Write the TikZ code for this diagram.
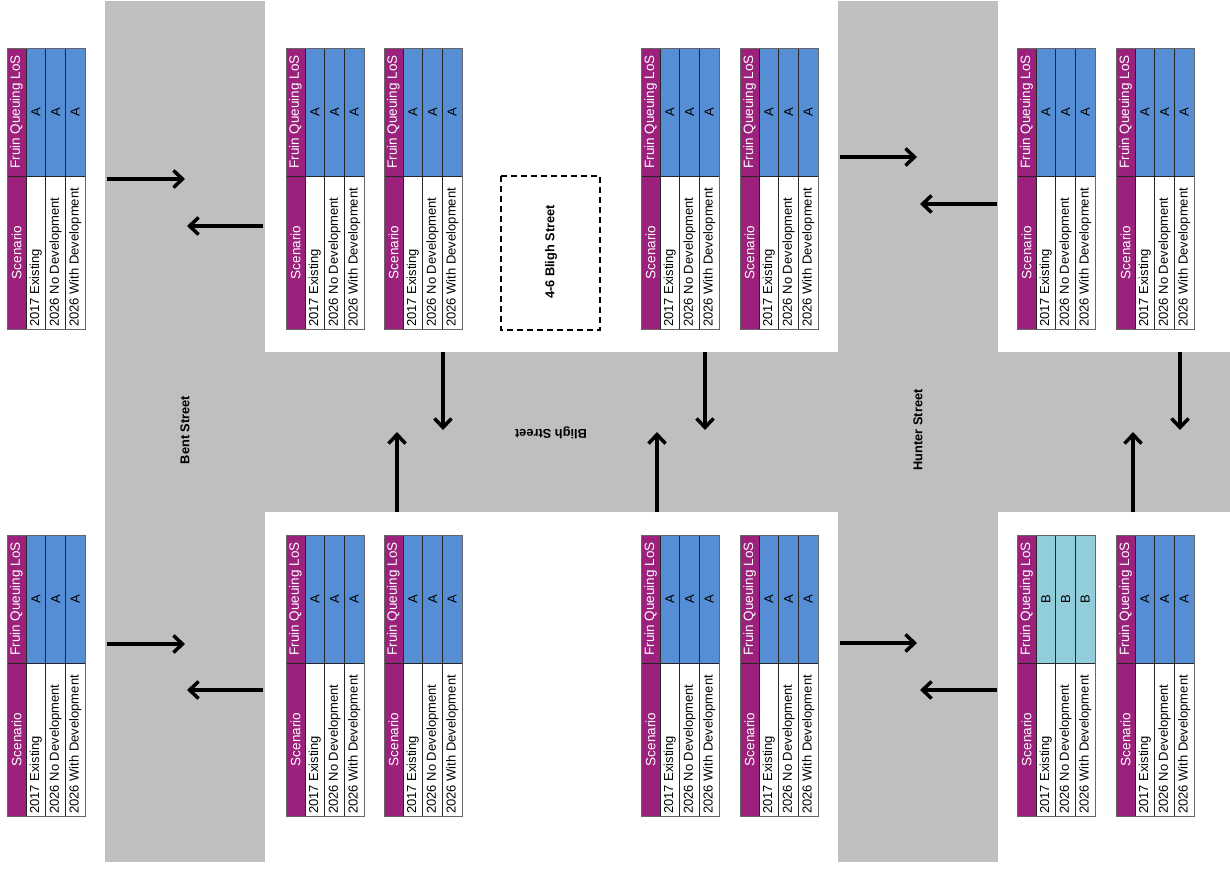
\documentclass[tikz,border=0pt]{standalone}
\usepackage{fontspec}
\setmainfont{Liberation Sans}
\usetikzlibrary{calc}
\usetikzlibrary{arrows.meta}
\definecolor{StreetSurface}{RGB}{191,191,191}
\definecolor{HeaderColumn}{RGB}{155,33,125}
\definecolor{LoSGradeA}{RGB}{85,142,213}
\definecolor{LoSGradeB}{RGB}{146,205,220}
\colorlet{TableRule}{black!85}

\tikzset{
    headText/.style = {rotate=90, text=white, inner sep=0pt, font=\fontsize{13.5}{16}\selectfont},
    cellText/.style = {rotate=90, inner sep=0pt, font=\fontsize{13}{16}\selectfont},
    streetText/.style = {inner sep=0pt, font=\bfseries\fontsize{12.8}{15}\selectfont},
    flow/.style = {line width=3.5pt, -{Straight Barb[length=9pt,width=17pt]}},
}

% Tabla: nombre, x, y, nivel, color
\newcommand{\losTable}[5]{%
    \coordinate (#1) at (#2, #3);
    \fill[HeaderColumn] (#1) rectangle ++(\tabHead, \tabHeight);
    \fill[#5] ($(#1) + (\tabHead, 0)$) rectangle ++(3*\tabCol, \tabSplit);
    \fill[white] ($(#1) + (\tabHead, \tabSplit)$) rectangle ++(3*\tabCol, \tabHeight-\tabSplit);
    \foreach \k in {1, 2, 3}
        \draw[TableRule, line width=0.8pt] ($(#1) + (\tabHead+\k*\tabCol-\tabCol, 0)$) -- ++(0, \tabHeight);
    \draw[TableRule, line width=0.8pt] ($(#1) + (0, \tabSplit)$) -- ++(\tabHead+3*\tabCol, 0);
    \draw[black!60, line width=0.8pt] (#1) rectangle ++(\tabHead+3*\tabCol, \tabHeight);
    \node[headText] (#1Los) at ($(#1) + (\tabHead/2, \tabSplit/2)$) {Fruin Queuing LoS};
    \node[headText] (#1Scenario) at ($(#1) + (\tabHead/2, {(\tabHeight+\tabSplit)/2})$) {Scenario};
    \foreach \txt [count=\k] in {2017 Existing, 2026 No Development, 2026 With Development} {
        \node[cellText] (#1Grade\k) at ($(#1) + (\tabHead+\k*\tabCol-\tabCol/2, \tabSplit/2)$) {#4};
        \node[cellText, anchor=west] (#1Row\k) at ($(#1) + (\tabHead+\k*\tabCol-\tabCol/2, \tabHeight-2)$) {\txt};
    }%
}

\begin{document}
\begin{tikzpicture}[x=1pt, y=-1pt]

    \def\tabHead{19}
    \def\tabCol{19.7}
    \def\tabSplit{128}
    \def\tabHeight{281}
    \def\topRow{48}
    \def\bottomRow{535}

    \useasboundingbox (0, 0) rectangle (1230, 868);

    % Calles

    \fill[StreetSurface] (105, 1) rectangle (265, 862);
    \fill[StreetSurface] (838, 1) rectangle (998, 862);
    \fill[StreetSurface] (265, 352) rectangle (838, 512);
    \fill[StreetSurface] (998, 352) rectangle (1230, 512);

    \node[streetText, rotate=90] (bentStreet) at (185, 430) {Bent Street};
    \node[streetText, rotate=90] (hunterStreet) at (918, 430) {Hunter Street};
    \node[streetText, rotate=180] (blighStreet) at (551, 433) {Bligh Street};

    % Sitio

    \draw[line width=1.4pt, dash pattern=on 6pt off 4pt] (501, 176) rectangle (600, 330);
    \node[streetText, rotate=90] (siteLabel) at (551, 252) {4-6 Bligh Street};

    % Tablas

    \losTable{tTopOne}{7}{\topRow}{A}{LoSGradeA}
    \losTable{tTopTwo}{286}{\topRow}{A}{LoSGradeA}
    \losTable{tTopThree}{384}{\topRow}{A}{LoSGradeA}
    \losTable{tTopFour}{641}{\topRow}{A}{LoSGradeA}
    \losTable{tTopFive}{740}{\topRow}{A}{LoSGradeA}
    \losTable{tTopSix}{1017}{\topRow}{A}{LoSGradeA}
    \losTable{tTopSeven}{1116}{\topRow}{A}{LoSGradeA}

    \losTable{tBotOne}{7}{\bottomRow}{A}{LoSGradeA}
    \losTable{tBotTwo}{286}{\bottomRow}{A}{LoSGradeA}
    \losTable{tBotThree}{384}{\bottomRow}{A}{LoSGradeA}
    \losTable{tBotFour}{641}{\bottomRow}{A}{LoSGradeA}
    \losTable{tBotFive}{740}{\bottomRow}{A}{LoSGradeA}
    \losTable{tBotSix}{1017}{\bottomRow}{B}{LoSGradeB}
    \losTable{tBotSeven}{1116}{\bottomRow}{A}{LoSGradeA}

    % Flechas

    \draw[flow] (107, 179) -- (185, 179);
    \draw[flow] (263, 226) -- (187, 226);
    \draw[flow] (107, 644) -- (185, 644);
    \draw[flow] (263, 690) -- (187, 690);

    \draw[flow] (840, 157) -- (917, 157);
    \draw[flow] (997, 204) -- (920, 204);
    \draw[flow] (840, 643) -- (917, 643);
    \draw[flow] (997, 690) -- (920, 690);

    \draw[flow] (443, 352) -- (443, 430);
    \draw[flow] (397, 512) -- (397, 432);
    \draw[flow] (705, 352) -- (705, 430);
    \draw[flow] (657, 512) -- (657, 432);
    \draw[flow] (1180, 352) -- (1180, 430);
    \draw[flow] (1133, 512) -- (1133, 432);

\end{tikzpicture}
\end{document}
